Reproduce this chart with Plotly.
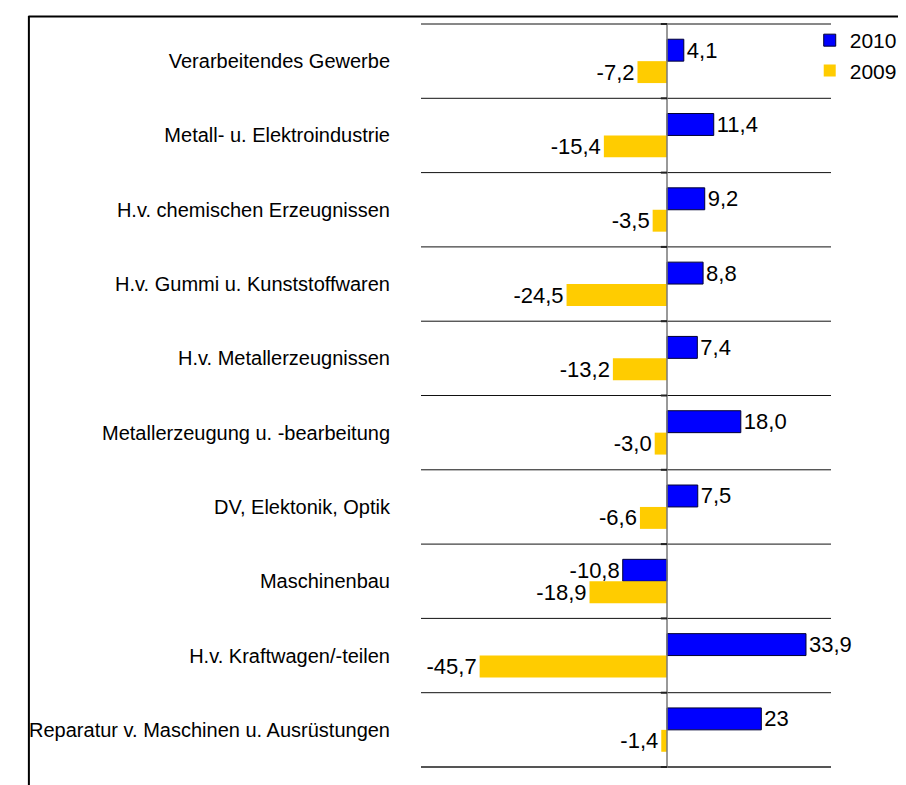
import plotly.graph_objects as go

categories = [
    "Verarbeitendes Gewerbe",
    "Metall- u. Elektroindustrie",
    "H.v. chemischen Erzeugnissen",
    "H.v. Gummi u. Kunststoffwaren",
    "H.v. Metallerzeugnissen",
    "Metallerzeugung u. -bearbeitung",
    "DV, Elektonik, Optik",
    "Maschinenbau",
    "H.v. Kraftwagen/-teilen",
    "Reparatur v. Maschinen u. Ausrüstungen",
]
values_2010 = [4.1, 11.4, 9.2, 8.8, 7.4, 18.0, 7.5, -10.8, 33.9, 23]
values_2009 = [-7.2, -15.4, -3.5, -24.5, -13.2, -3.0, -6.6, -18.9, -45.7, -1.4]
series_names = ["2010", "2009"]


def fmt(v):
    if isinstance(v, int):
        return str(v)
    return f"{v:.1f}".replace(".", ",")


W, H = 906, 785
PL, PR, PT, PB = 413, 837, 13, 760  # plot area pixel bounds


def px_x(x):
    return (x - PL) / (PR - PL)


def px_y(y):
    return (PB - y) / (PB - PT)


FONT = "Liberation Sans, Arial, sans-serif"

fig = go.Figure()
fig.add_trace(go.Bar(
    name=series_names[0], y=categories, x=values_2010, orientation="h",
    marker=dict(color="#0000FF", line=dict(color="#000033", width=1)),
    text=[fmt(v) for v in values_2010], textposition="outside",
    textfont=dict(size=22, color="#000000", family=FONT),
    cliponaxis=False, constraintext="none",
))
fig.add_trace(go.Bar(
    name=series_names[1], y=categories, x=values_2009, orientation="h",
    marker=dict(color="#FFCC00", line=dict(color="#FFCC00", width=0)),
    text=[fmt(v) for v in values_2009], textposition="outside",
    textfont=dict(size=22, color="#000000", family=FONT),
    cliponaxis=False, constraintext="none",
))

shapes = []
n = len(categories)
# horizontal separators between categories
for k in range(n + 1):
    last = k == n
    shapes.append(dict(type="line", xref="paper", yref="y",
                       x0=0, x1=1, y0=k - 0.5, y1=k - 0.5,
                       line=dict(color="#555555" if last else "#111111",
                                 width=2 if last else 1)))
# zero line
shapes.append(dict(type="line", xref="x", yref="paper", x0=0, x1=0, y0=0, y1=1,
                   line=dict(color="#777777", width=1.5)))
# small tick marks on the zero line at each separator
for k in range(n + 1):
    shapes.append(dict(type="line", xref="x", yref="y",
                       x0=-1.5, x1=0, y0=k - 0.5, y1=k - 0.5,
                       line=dict(color="#222222", width=2)))
# outer frame (top and left)
shapes.append(dict(type="line", xref="paper", yref="paper",
                   x0=px_x(7), x1=px_x(W + 5), y0=px_y(6.5), y1=px_y(6.5),
                   line=dict(color="#000000", width=2)))
shapes.append(dict(type="line", xref="paper", yref="paper",
                   x0=px_x(7.5), x1=px_x(7.5), y0=px_y(6), y1=px_y(H + 5),
                   line=dict(color="#000000", width=2)))

fig.update_layout(
    width=W, height=H,
    margin=dict(l=PL, r=W - PR, t=PT, b=H - PB, pad=0),
    paper_bgcolor="white", plot_bgcolor="white",
    barmode="group", bargap=0.41, bargroupgap=0,
    font=dict(family=FONT, color="#000000"),
    showlegend=True,
    legend=dict(x=px_x(815), y=px_y(10), xanchor="left", yanchor="top",
                font=dict(size=21, family=FONT), bgcolor="rgba(0,0,0,0)",
                traceorder="normal"),
    xaxis=dict(range=[-60, 40], showgrid=False, zeroline=False,
               showticklabels=False, ticks="", showline=False, fixedrange=True),
    yaxis=dict(autorange="reversed", showgrid=False, zeroline=False,
               showline=False, ticks="outside", ticklen=26,
               tickcolor="rgba(0,0,0,0)",
               tickfont=dict(size=20, family=FONT, color="#000000")),
    shapes=shapes,
)

fig.write_html("out.html")
